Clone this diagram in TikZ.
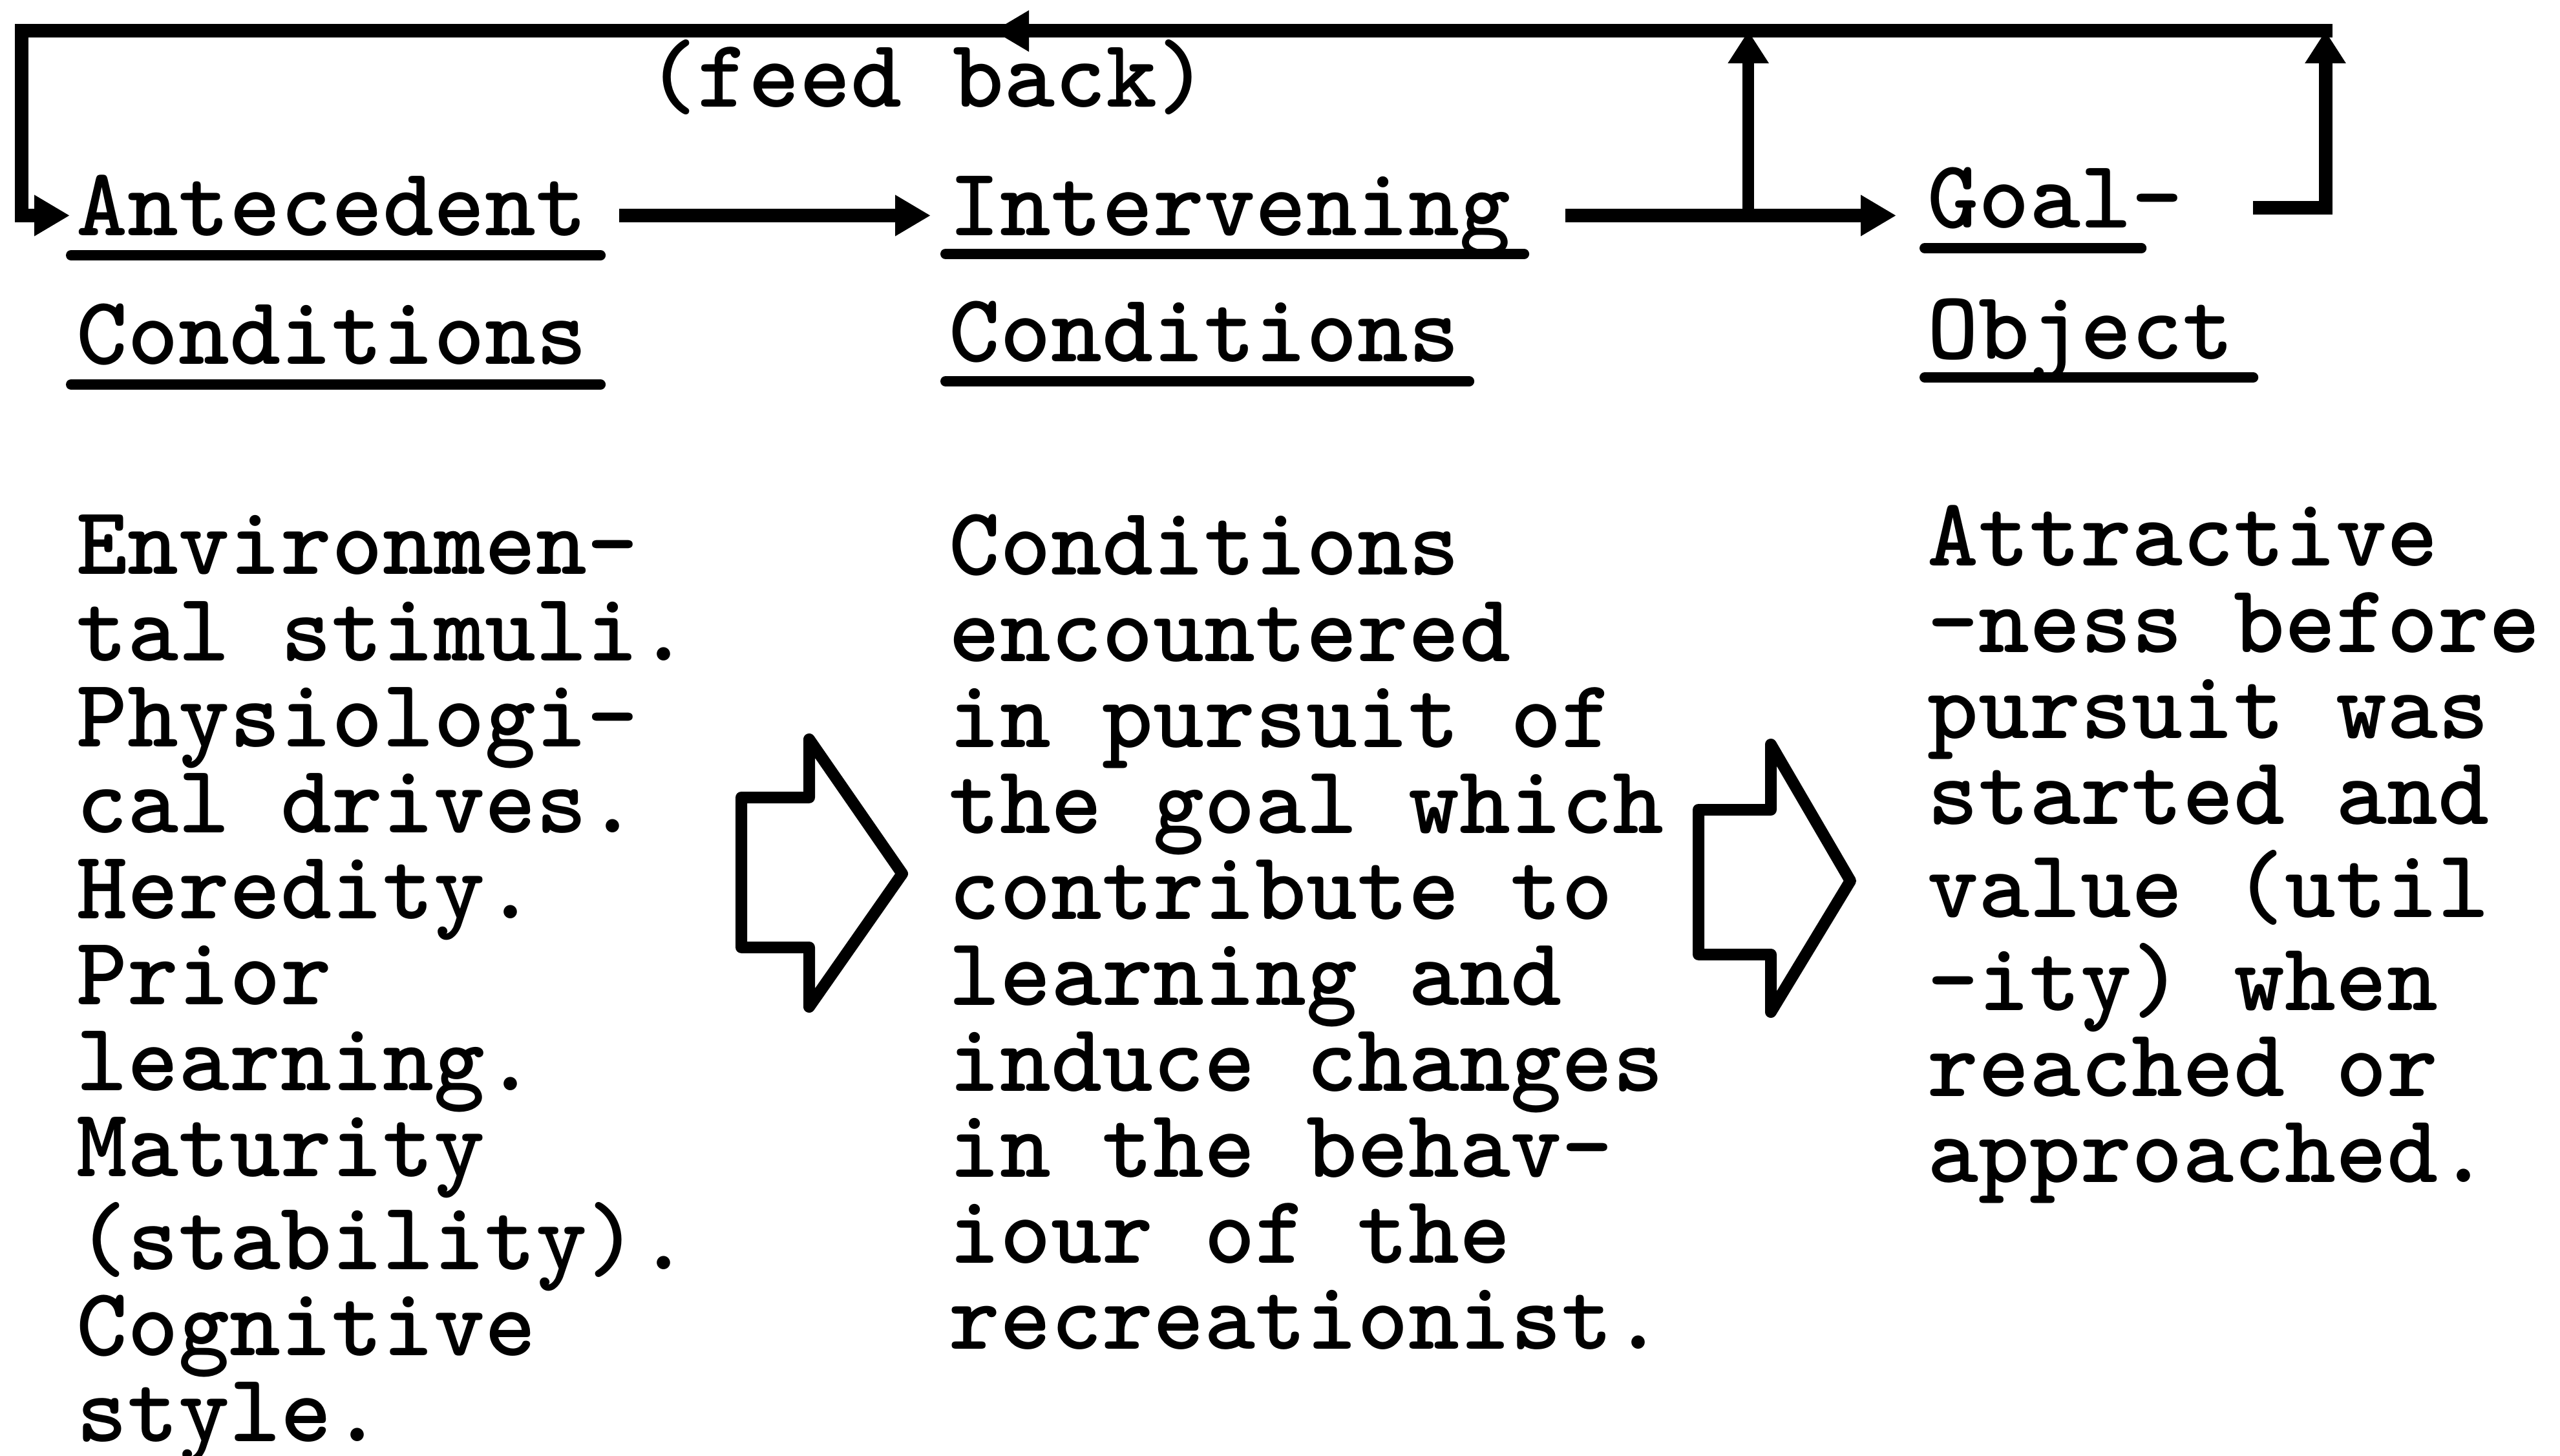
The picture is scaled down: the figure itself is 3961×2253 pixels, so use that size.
\documentclass[tikz,border=0pt]{standalone}
\usepackage{fontspec}
\usetikzlibrary{arrows.meta,calc}
\begin{document}
\begin{tikzpicture}[x=0.1mm,y=-0.1mm,
  txt/.style={anchor=base west, inner sep=0pt, font=\ttfamily\bfseries\fontsize{42.8}{37.85}\selectfont},
  head/.style={txt, text height=6.3mm, text depth=0pt},
  mainline/.style={line width=2.1mm, line join=miter, line cap=rect},
  branchline/.style={line width=1.8mm, line cap=butt},
  tip/.style={-{Triangle[length=5.5mm,width=6mm]}},
  uptip/.style={-{Triangle[length=5mm,width=6mm]}},
  uline/.style={line width=1.6mm, line cap=round},
  blockarrow/.style={line width=1.8mm, line join=round}
]
\useasboundingbox (0,0) rectangle (3961,2253);

% headings
\node[head] (ant)  at (118,365)  {Antecedent};
\node[head] (antc) at (118,564)  {Conditions};
\node[head] (int)  at (1468,365) {Intervening};
\node[head] (intc) at (1468,560) {Conditions};
\node[head] (goal) at (2982,353) {Goal-};
\node[head] (obj)  at (2982,556) {Object};
\node[txt]  (fb)   at (1000,166) {(feed back)};

% underlines
\draw[uline] ($(ant.base west)+(-8,30)$)  -- ($(ant.base east)+(20,30)$);
\draw[uline] ($(antc.base west)+(-8,31)$) -- ($(antc.base east)+(20,31)$);
\draw[uline] ($(int.base west)+(-5,28)$)  -- ($(int.base east)+(20,28)$);
\draw[uline] ($(intc.base west)+(-5,30)$) -- ($(intc.base east)+(14,30)$);
\draw[uline] ($(goal.base west)+(-4,31)$) -- ($(goal.base east)+(-65,31)$);
\draw[uline] ($(obj.base west)+(-4,28)$)  -- ($(obj.base east)+(29,28)$);

% body texts
\node[txt] (b1) at (118,889) {\begin{tabular}[t]{@{}l@{}}
Environmen-\\tal stimuli.\\Physiologi-\\cal drives.\\Heredity.\\Prior\\learning.\\Maturity\\(stability).\\Cognitive\\style.\end{tabular}};
\node[txt] (b2) at (1468,890) {\begin{tabular}[t]{@{}l@{}}
Conditions\\encountered\\in pursuit of\\the goal which\\contribute to\\learning and\\induce changes\\in the behav-\\iour of the\\recreationist.\end{tabular}};
\node[txt] (b3) at (2982,876) {\begin{tabular}[t]{@{}l@{}}
Attractive\\-ness before\\pursuit was\\started and\\value (util\\-ity) when\\reached or\\approached.\end{tabular}};

% feedback loop
\coordinate (topL) at (33,48);
\coordinate (topR) at (3598,48);
\coordinate (fbtip) at (1537,48);
\draw[mainline, tip] (topR) -- (topL) |- ($(ant.west)+(-10,0)$);
\draw[mainline, tip] (topR) -- (fbtip);

% forward arrows
\draw[mainline, tip, line cap=butt] ($(ant.east)+(49,0)$) -- ($(int.west)+(-28,0)$);
\draw[mainline, tip, line cap=butt] ($(int.east)+(84,0)$) -- ($(int.east -| goal.west)+(-48,0)$);
\coordinate (br) at ($(int.east)!0.57!(int.east -| goal.west)$);
\draw[branchline, uptip] (br) -- (br |- topR);
\coordinate (gs) at ($(goal.east)+(108,0)$);
\draw[mainline, uptip, line cap=butt] (gs) -| (topR);

% block arrows
\draw[blockarrow] (1147,1234) -- (1252,1234) -- (1252,1144) -- (1396,1352)
  -- (1252,1558) -- (1252,1466) -- (1147,1466) -- cycle;
\draw[blockarrow] (2628,1253) -- (2740,1253) -- (2740,1152) -- (2863,1363)
  -- (2740,1566) -- (2740,1477) -- (2628,1477) -- cycle;
\end{tikzpicture}
\end{document}
